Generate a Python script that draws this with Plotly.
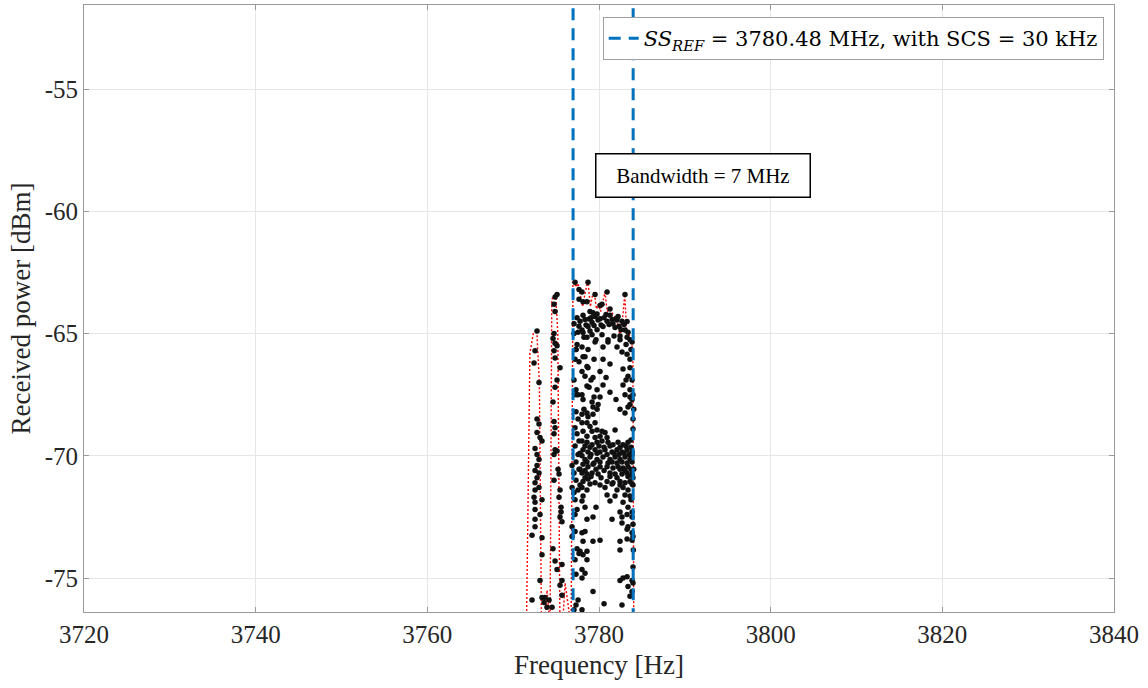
import plotly.graph_objects as go

# ---------------- data ----------------
ss_ref_mhz = 3780.48
bandwidth_mhz = 7.0

# peak-hold envelope (red dotted line)
env_freq = [3771.55, 3771.95, 3772.35, 3772.75, 3773.05, 3773.3, 3773.65, 3773.95, 3774.3,
            3774.5, 3774.75, 3774.95, 3775.2, 3775.45, 3775.75, 3776.05, 3776.75, 3776.97,
            3777.1, 3777.3, 3777.55, 3777.8, 3778.1, 3778.4, 3778.7, 3779.0, 3779.2, 3779.45,
            3779.7, 3779.95, 3780.2, 3780.45, 3780.7, 3780.95, 3781.3, 3781.6, 3782.0, 3782.3,
            3782.45, 3782.8, 3783.0, 3783.25, 3783.5, 3783.8, 3783.95, 3784.05]
env_power = [-77.0, -65.8, -65.0, -64.85, -67.0, -77.0, -77.0, -75.5, -77.0,
             -63.6, -63.5, -63.35, -65.0, -77.0, -77.0, -75.2, -77.0, -62.9,
             -62.8, -63.1, -62.95, -63.4, -63.9, -63.3, -62.85, -63.9, -63.5, -63.3,
             -64.0, -63.8, -64.1, -63.7, -63.3, -64.1, -64.0, -64.2, -64.4, -64.8,
             -65.1, -64.2, -63.4, -65.1, -65.0, -65.3, -66.0, -77.0]

# measured samples below the band edge (left of the SSB)
side_freq = [3772.78, 3772.55, 3772.43, 3773.01, 3775.11, 3774.88, 3774.76, 3774.88, 3774.76,
             3774.64, 3774.88, 3775.11, 3774.76, 3774.88, 3775.11, 3774.88, 3775.46,
             3772.78, 3773.01, 3772.78, 3773.13, 3773.36, 3772.55, 3772.78, 3773.01, 3772.78,
             3772.55, 3773.01, 3772.78, 3772.55, 3773.01, 3772.55, 3772.43, 3773.36,
             3774.64, 3774.76, 3774.88, 3774.76, 3774.88, 3774.76, 3775.11, 3775.23, 3775.34,
             3774.76, 3775.46, 3775.34,
             3772.55, 3772.55, 3773.13, 3772.55, 3772.55, 3772.2, 3773.36, 3773.36, 3773.13,
             3772.2, 3773.36, 3773.6, 3773.94, 3773.71, 3774.18, 3774.64, 3774.88, 3775.11,
             3775.69, 3775.69, 3775.46, 3775.69, 3774.53, 3775.58, 3775.58, 3775.46, 3775.69]
side_power = [-64.9, -65.7, -66.2, -67.0, -63.4, -63.5, -63.8, -64.1, -65.0,
              -65.2, -65.4, -65.5, -65.7, -66.0, -66.9, -67.2, -66.4,
              -68.5, -68.7, -69.05, -69.25, -69.4, -69.7, -69.95, -70.15, -70.4,
              -70.6, -70.7, -70.9, -71.1, -71.3, -71.4, -71.7, -71.8,
              -67.8, -68.6, -68.85, -69.1, -69.75, -69.95, -69.8, -70.55, -70.75,
              -71.0, -71.4, -71.7,
              -71.9, -72.2, -72.4, -72.6, -72.9, -73.25, -73.35, -74.05, -75.1,
              -75.9, -75.8, -76.0, -76.2, -75.8, -75.9, -73.8, -74.3, -74.65,
              -74.45, -75.1, -75.3, -75.7, -76.2, -72.1, -72.3, -72.5, -72.7]

# measured samples inside the 7 MHz band: upper group
band_top_freq = [3777.09, 3777.09, 3777.09, 3777.67, 3777.67, 3777.44, 3777.79, 3778.14, 3778.49,
                 3778.84, 3779.19, 3779.54, 3779.89, 3780.24, 3780.59, 3780.94, 3781.28, 3781.63,
                 3781.98, 3782.33, 3782.68, 3783.03, 3783.38,
                 3777.56, 3778.25, 3778.95, 3779.65, 3780.35, 3781.05, 3781.75, 3782.45, 3783.15,
                 3783.73, 3778.72, 3778.14, 3778.6, 3778.95, 3779.30, 3779.77, 3780.35, 3780.94,
                 3781.28, 3782.1, 3782.45, 3783.03, 3783.27, 3783.85, 3777.21, 3778.02, 3779.54,
                 3780.12, 3777.67, 3778.02, 3778.37, 3778.72, 3779.07, 3779.42, 3779.77, 3780.12,
                 3780.47, 3780.82, 3781.17, 3781.52, 3781.87, 3782.22, 3782.57, 3782.92, 3783.27,
                 3783.61]
band_top_power = [-64.6, -65.0, -66.9, -63.2, -63.6, -64.35, -64.5, -64.25, -64.65,
                  -64.4, -64.55, -64.3, -64.45, -64.65, -64.35, -64.5, -64.25, -64.6,
                  -64.4, -64.7, -64.5, -64.85, -64.95,
                  -64.95, -65.15, -64.9, -65.25, -65.05, -65.35, -65.1, -65.25, -65.45,
                  -65.65, -62.9, -63.7, -63.7, -64.1, -64.15, -64.2, -63.8, -63.3,
                  -64.0, -64.45, -65.1, -63.4, -65.15, -65.35, -62.9, -63.3, -63.4,
                  -63.85, -64.7, -64.85, -64.43, -64.71, -64.35, -64.67, -64.84, -64.39,
                  -64.71, -64.22, -64.63, -64.43, -64.75, -64.3, -64.84, -64.63, -64.51,
                  -65.25]

# inside the band: middle scatter
band_mid_freq = [3777.32, 3777.67, 3778.02, 3778.37, 3778.72, 3779.07, 3779.42, 3779.77, 3780.12,
                 3780.47, 3777.56, 3778.14, 3778.84, 3779.42, 3780.12, 3780.82, 3781.28, 3781.98,
                 3782.45, 3783.15, 3783.61, 3783.85, 3783.96, 3783.73,
                 3778.14, 3778.6, 3779.19, 3778.02, 3778.72, 3779.54, 3780.47, 3781.05, 3782.1,
                 3782.68, 3783.27, 3783.61, 3778.14, 3778.6, 3778.37, 3779.3, 3778.6, 3780.47,
                 3781.28, 3782.8, 3783.38, 3783.85, 3782.8, 3783.61,
                 3777.32, 3777.21, 3777.44, 3777.32, 3777.32]
band_mid_power = [-65.65, -66.15, -66.55, -65.95, -66.4, -66.9, -66.05, -67.3, -66.55,
                  -67.1, -67.5, -67.7, -67.2, -67.6, -67.6, -66.8, -67.4, -67.7,
                  -68.1, -66.9, -66.4, -67.7, -68.5, -69.35,
                  -64.96, -65.15, -65.05, -65.55, -65.65, -65.35, -65.55, -65.25, -65.55,
                  -65.75, -65.85, -66.05, -65.95, -66.35, -66.75, -66.8, -67.15, -66.05,
                  -66.25, -66.45, -66.75, -66.9, -67.1, -67.3,
                  -67.5, -66.05, -65.45, -67.3, -65.65]

# inside the band: dense lower group
band_low_freq = [3778.02, 3778.25, 3778.02, 3778.6, 3779.19, 3779.89, 3779.3, 3779.77, 3778.72,
                 3779.3, 3778.02, 3778.6, 3778.95, 3779.54, 3778.14, 3779.19, 3779.77, 3778.6,
                 3779.54, 3780.35, 3780.7, 3780.12, 3780.94, 3781.87, 3783.03, 3783.03, 3783.61,
                 3783.61, 3783.38,
                 3778.02, 3778.6, 3779.19, 3779.77, 3780.35, 3781.05, 3781.63, 3782.22, 3782.8, 3783.38,
                 3778.14, 3778.72, 3779.54, 3780.12, 3780.7, 3781.52, 3782.1, 3782.68, 3783.27, 3783.85,
                 3778.02, 3778.37, 3778.95, 3779.77, 3780.47, 3781.28, 3781.87, 3782.45, 3783.03, 3783.61,
                 3778.14, 3778.72, 3779.3, 3780.12, 3780.94, 3781.63, 3782.22, 3782.8, 3783.38,
                 3778.02, 3778.6, 3779.19, 3779.89, 3781.28, 3781.87, 3782.68, 3783.27, 3783.85,
                 3778.14, 3778.72, 3779.54, 3780.94, 3781.63, 3782.45, 3783.03, 3783.61,
                 3778.02, 3778.6, 3780.7, 3782.1, 3782.8, 3783.38,
                 3778.14, 3780.94, 3781.87, 3783.03, 3783.61,
                 3778.37, 3778.95, 3780.0, 3780.59, 3781.28, 3782.45, 3783.15, 3783.73,
                 3777.79, 3779.07, 3779.77, 3780.94, 3781.75, 3782.33, 3782.92, 3783.5,
                 3778.6, 3779.42, 3780.12, 3781.05, 3781.52, 3782.1, 3782.68, 3783.27, 3783.85,
                 3777.79, 3778.37, 3779.65, 3780.59, 3782.45, 3783.03, 3783.73,
                 3778.37, 3779.07, 3780.24, 3781.28, 3782.1, 3783.38, 3783.96,
                 3777.79, 3778.95, 3780.12, 3781.52, 3782.45, 3783.85,
                 3777.32, 3777.56, 3777.21, 3777.44, 3777.67, 3777.21, 3777.56, 3777.32, 3777.67,
                 3777.32, 3777.56, 3777.21, 3776.86, 3777.09, 3776.86, 3777.09,
                 3783.96, 3783.85, 3784.05, 3783.96, 3783.73, 3783.96, 3784.05]
band_low_power = [-67.5, -68.1, -68.3, -68.25, -67.8, -67.9, -68.0, -68.1, -68.4,
                  -68.3, -68.65, -68.65, -68.8, -68.65, -69.0, -69.0, -68.95, -69.2,
                  -69.25, -69.0, -69.05, -69.2, -69.25, -68.95, -68.25, -67.5, -67.6,
                  -67.9, -68.0,
                  -69.4, -69.45, -69.55, -69.45, -69.4, -69.45, -69.55, -69.45, -69.55, -69.45,
                  -69.75, -69.85, -69.75, -69.85, -69.75, -69.85, -69.75, -69.85, -69.75, -69.85,
                  -70.0, -70.15, -70.05, -70.15, -70.05, -70.15, -70.05, -70.15, -70.05, -70.15,
                  -70.35, -70.45, -70.35, -70.45, -70.45, -70.5, -70.45, -70.5, -70.45,
                  -70.7, -70.75, -70.7, -70.75, -70.7, -70.75, -70.75, -70.7, -70.75,
                  -71.05, -70.95, -71.1, -71.05, -71.1, -71.05, -71.1, -71.05,
                  -71.3, -71.4, -71.3, -71.4, -71.3, -71.4,
                  -71.65, -71.6, -71.65, -71.6, -71.65,
                  -69.6, -69.65, -69.6, -69.65, -69.6, -69.65, -69.6, -69.65,
                  -69.9, -69.95, -69.9, -69.95, -69.9, -69.95, -69.9, -69.95,
                  -70.25, -70.3, -70.25, -70.3, -70.25, -70.3, -70.25, -70.3, -70.25,
                  -70.55, -70.6, -70.55, -70.6, -70.55, -70.6, -70.55,
                  -70.9, -70.85, -70.9, -70.85, -70.9, -70.85, -70.9,
                  -71.2, -71.15, -71.2, -71.15, -71.2, -71.15,
                  -68.2, -68.5, -68.85, -69.1, -69.4, -69.6, -69.95, -70.25, -70.55,
                  -71.0, -71.4, -71.8, -70.4, -70.7, -71.3, -71.5,
                  -68.9, -69.95, -70.55, -71.2, -71.8, -67.5, -68.1]

# inside the band: sparse bottom tail
band_tail_freq = [3778.02, 3778.37, 3779.3, 3781.52, 3778.6, 3778.02, 3778.37, 3778.14, 3779.3,
                  3782.45, 3782.68, 3782.45, 3782.45, 3777.79, 3778.14, 3778.6, 3778.6, 3778.02,
                  3778.37, 3778.02, 3782.45, 3782.8, 3783.27, 3783.85, 3783.96, 3783.38, 3783.85,
                  3783.61, 3779.3, 3782.68, 3778.02, 3781.28, 3782.8, 3783.38, 3783.85, 3783.85,
                  3783.96, 3783.27, 3783.85, 3783.96, 3783.27, 3783.85, 3784.0, 3783.96, 3783.27,
                  3782.68, 3783.38, 3780.12, 3779.65, 3780.59,
                  3776.86, 3777.21, 3776.86, 3777.44, 3777.67, 3777.44, 3777.21, 3777.21, 3777.32,
                  3777.56, 3777.09, 3777.32]
band_tail_power = [-71.85, -72.1, -72.5, -72.6, -72.6, -73.15, -73.1, -73.5, -73.5,
                   -72.3, -72.75, -73.5, -73.85, -73.9, -74.05, -73.9, -74.25, -74.65,
                   -74.8, -75.0, -75.1, -75.0, -74.95, -75.1, -75.2, -75.35, -75.55,
                   -75.75, -75.55, -76.1, -76.3, -71.85, -71.9, -72.1, -72.3, -72.5,
                   -72.8, -73.0, -73.15, -73.3, -73.4, -73.45, -73.85, -74.55, -72.4,
                   -72.5, -72.9, -73.45, -72.1, -76.05,
                   -72.9, -73.1, -73.3, -73.8, -74.0, -72.2, -72.4, -74.25, -74.85,
                   -75.9, -76.3, -76.1]

x_ticks = [3720, 3740, 3760, 3780, 3800, 3820, 3840]
y_ticks = [-75, -70, -65, -60, -55]

# ---------------- figure ----------------
SERIF = "Liberation Serif, Times New Roman, serif"
LEG_SERIF = "DejaVu Serif, Liberation Serif, serif"
AX = "#262626"
BOX = "#9a9a9a"
GRID = "#e6e6e6"

fig = go.Figure()

fig.add_trace(go.Scatter(
    x=env_freq, y=env_power, mode="lines",
    line=dict(color="#ff0000", width=1.4, dash="2px,2px"),
    showlegend=False, hoverinfo="skip"))

dot_style = dict(color="#111111", size=5.5, line=dict(width=0))
for fx, py in [(side_freq, side_power), (band_top_freq, band_top_power),
               (band_mid_freq, band_mid_power), (band_low_freq, band_low_power),
               (band_tail_freq, band_tail_power)]:
    fig.add_trace(go.Scatter(x=fx, y=py, mode="markers", marker=dot_style,
                             showlegend=False))

low_edge = ss_ref_mhz - bandwidth_mhz / 2
high_edge = ss_ref_mhz + bandwidth_mhz / 2
legend_name = ("<i>SS</i><sub><i>REF</i></sub> = %.2f MHz, with SCS = 30 kHz" % ss_ref_mhz)
for i, edge in enumerate([low_edge, high_edge]):
    fig.add_trace(go.Scatter(
        x=[edge, edge], y=[-80, -50], mode="lines",
        line=dict(color="#0072BD", width=3, dash="12px,8px"),
        name=legend_name, showlegend=(i == 0), legendgroup="ss"))

fig.add_annotation(
    xref="paper", yref="paper", x=0.6005, y=0.719,
    xanchor="center", yanchor="middle",
    text="Bandwidth = %d MHz" % bandwidth_mhz, showarrow=False,
    font=dict(family=SERIF, size=21, color="#000000"),
    bordercolor="#000000", borderwidth=1.5, borderpad=2,
    bgcolor="#ffffff", width=209, height=38)

fig.update_layout(
    width=1148, height=688,
    margin=dict(l=84, r=34, t=5, b=76),
    paper_bgcolor="#ffffff", plot_bgcolor="#ffffff",
    font=dict(family=SERIF, color=AX),
    legend=dict(x=0.990, y=0.980, xanchor="right", yanchor="top",
                bgcolor="#ffffff", bordercolor="#a0a0a0", borderwidth=1,
                font=dict(family=LEG_SERIF, size=21, color="#000000"),
                itemwidth=30, tracegroupgap=0),
    xaxis=dict(range=[3720, 3840], tickvals=x_ticks, ticktext=[str(v) for v in x_ticks],
               showgrid=True, gridcolor=GRID, gridwidth=1, zeroline=False,
               showline=True, linecolor=BOX, linewidth=1, mirror="ticks",
               ticks="inside", ticklen=5, tickcolor=BOX,
               tickfont=dict(family=SERIF, size=25, color=AX),
               title=dict(text="Frequency [Hz]", font=dict(family=SERIF, size=27, color=AX),
                          standoff=8)),
    yaxis=dict(range=[-76.39, -51.56], tickvals=y_ticks, ticktext=[str(v) for v in y_ticks],
               showgrid=True, gridcolor=GRID, gridwidth=1, zeroline=False,
               showline=True, linecolor=BOX, linewidth=1, mirror="ticks",
               ticks="inside", ticklen=5, tickcolor=BOX,
               tickfont=dict(family=SERIF, size=25, color=AX),
               title=dict(text="Received power [dBm]", font=dict(family=SERIF, size=27, color=AX),
                          standoff=6)),
)

fig.write_html("out.html")
